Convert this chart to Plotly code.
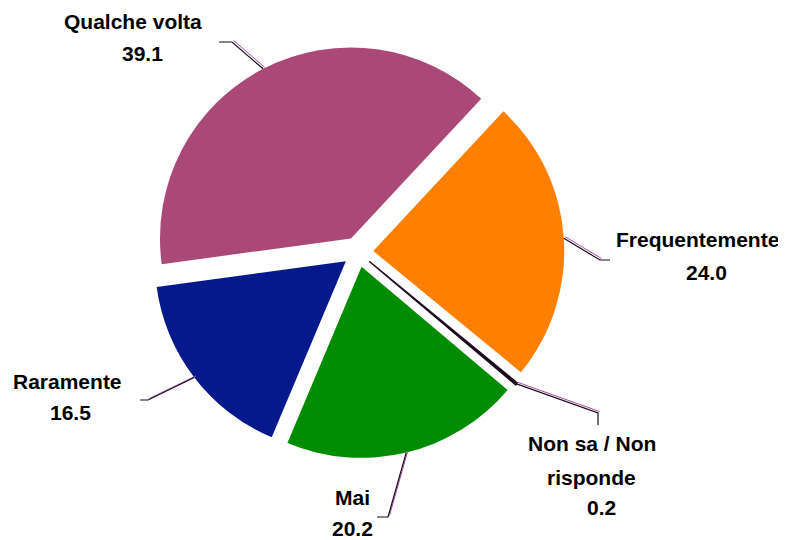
import numpy as np
import plotly.graph_objects as go

W, H = 786, 540
OFF = 8  # page body margin in the browser

labels = ["Frequentemente", "Non sa / Non risponde", "Mai", "Raramente", "Qualche volta"]
values = [24.0, 0.2, 20.2, 16.5, 39.1]
colours = ["#FF8000", "#1E0A1E", "#008C00", "#05198C", "#AA4978"]

# label text lines and their centres (px), plus leader elbow/end points (px)
label_lines = {
    "Frequentemente": [("Frequentemente", 697, 240), ("24.0", 706, 272)],
    "Non sa / Non risponde": [("Non sa / Non", 592, 443), ("risponde", 591, 477), ("0.2", 601, 507)],
    "Mai": [("Mai", 352, 497), ("20.2", 352, 528)],
    "Raramente": [("Raramente", 67, 381), ("16.5", 71, 412)],
    "Qualche volta": [("Qualche volta", 133, 22), ("39.1", 142, 54)],
}
leader_pts = {
    "Frequentemente": [(600, 260), (610, 260)],
    "Non sa / Non risponde": [(598, 413), (598, 425)],
    "Mai": [(388, 517), (377, 517)],
    "Raramente": [(148, 400), (140, 400)],
    "Qualche volta": [(232, 42), (219, 42)],
}

rotation = 43
pull = 0.08
cx, cy, r = 358, 252, 191
half = r * (1 + pull)


def px(x):
    return (x - OFF) / W


def py(y):
    return 1 - (y - OFF) / H


fig = go.Figure(go.Pie(
    labels=labels, values=values, sort=False, direction="clockwise",
    rotation=rotation, pull=[pull] * len(values),
    marker=dict(colors=colours,
                line=dict(width=[0, 1.5, 0, 0, 0], color="#1E0A1E")),
    textinfo="none", hoverinfo="label+value",
    domain=dict(x=[px(cx - half), px(cx + half)], y=[py(cy + half), py(cy - half)]),
))

fnt = dict(family="Liberation Sans, Arial, sans-serif", size=21, color="#000000")
annotations = []
shapes = []
total = sum(values)
start = rotation
for lab, v in zip(labels, values):
    span = v / total * 360
    mid = np.radians(start + span / 2)
    start += span
    x0 = cx + (r + pull * r) * np.sin(mid)
    y0 = cy - (r + pull * r) * np.cos(mid)
    (ex, ey), (fx, fy) = leader_pts[lab]
    # purple shadow line then dark line
    shapes.append(dict(type="path", xref="paper", yref="paper",
                       path=f"M{px(x0 + 1.5)},{py(y0 - 1.5)} L{px(ex + 1.5)},{py(ey - 1.5)}",
                       line=dict(color="#A050A0", width=1)))
    shapes.append(dict(type="path", xref="paper", yref="paper",
                       path=f"M{px(x0)},{py(y0)} L{px(ex)},{py(ey)} L{px(fx)},{py(fy)}",
                       line=dict(color="#1A0A1A", width=1.2)))
    for txt, tx, ty in label_lines[lab]:
        annotations.append(dict(text=f"<b>{txt}</b>", x=px(tx), y=py(ty), xref="paper", yref="paper",
                                xanchor="center", yanchor="middle", showarrow=False, font=fnt))

fig.update_layout(
    width=W, height=H, margin=dict(l=0, r=0, t=0, b=0),
    paper_bgcolor="white", plot_bgcolor="white", showlegend=False,
    annotations=annotations, shapes=shapes,
)
fig.write_html("out.html")
